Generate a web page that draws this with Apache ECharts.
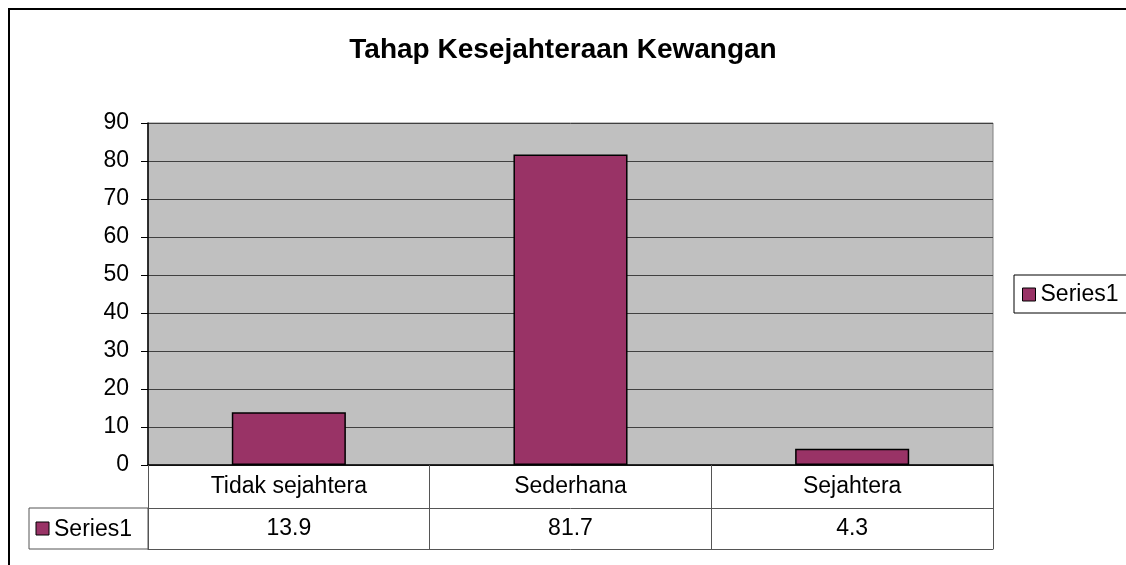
<!DOCTYPE html>
<html>
<head>
<meta charset="utf-8">
<script src="https://cdn.jsdelivr.net/npm/echarts@6/dist/echarts.min.js"></script>
<style>
  html, body { margin: 0; padding: 0; background: #fff; }
  #chart { width: 1126px; height: 565px; }
</style>
</head>
<body>
<div id="chart"></div>
<script>
// data
const titleText = 'Tahap Kesejahteraan Kewangan'
const seriesName = 'Series1'
const categories = ['Tidak sejahtera', 'Sederhana', 'Sejahtera']
const values = [13.9, 81.7, 4.3]
const yTicks = [0, 10, 20, 30, 40, 50, 60, 70, 80, 90]

const font = 'Arial, "Liberation Sans", sans-serif'
const barColor = '#993366'

// plot area (px)
const gLeft = 148, gTop = 123, gRight = 133, gBottom = 100
const rowH1 = 43, rowH2 = 41

let mycharts = echarts.init(document.getElementById('chart'))

const tableTop = 565 - gBottom
mycharts.setOption({
  animation: false,
  title: {
    text: titleText,
    left: 'center',
    top: 36,
    padding: 0,
    textStyle: { fontFamily: font, fontSize: 28, fontWeight: 'bold', color: '#000' },
  },
  legend: {
    left: 1014,
    top: 275,
    padding: [8, 30, 7, 8],
    backgroundColor: '#fff',
    borderColor: '#000',
    borderWidth: 1,
    icon: 'rect',
    itemWidth: 13,
    itemHeight: 13,
    itemStyle: { borderColor: '#000', borderWidth: 1 },
    textStyle: { fontFamily: font, fontSize: 23, color: '#000' },
    data: [seriesName],
  },
  grid: {
    left: gLeft,
    top: gTop,
    right: gRight,
    bottom: gBottom,
    show: true,
    backgroundColor: '#c0c0c0',
    borderColor: '#808080',
    borderWidth: 1,
  },
  xAxis: [
    {
      type: 'category',
      data: categories,
      position: 'bottom',
      axisLine: { show: true, lineStyle: { color: '#000', width: 1.5 } },
      axisTick: { show: true, length: rowH1, lineStyle: { color: '#555' } },
      axisLabel: { margin: 10, fontFamily: font, fontSize: 23, color: '#000' },
      splitLine: { show: false },
    },
    {
      type: 'category',
      data: values.map(String),
      position: 'bottom',
      offset: rowH1,
      axisLine: { show: true, lineStyle: { color: '#555' } },
      axisTick: { show: true, length: rowH2, lineStyle: { color: '#555' } },
      axisLabel: { margin: 9, fontFamily: font, fontSize: 23, color: '#000' },
      splitLine: { show: false },
    },
    {
      type: 'category',
      data: categories,
      position: 'bottom',
      offset: rowH1 + rowH2,
      axisLine: { show: true, lineStyle: { color: '#555' } },
      axisTick: { show: false },
      axisLabel: { show: false },
      splitLine: { show: false },
    },
  ],
  yAxis: {
    type: 'value',
    min: yTicks[0],
    max: yTicks[yTicks.length - 1],
    interval: 10,
    axisLine: { show: true, lineStyle: { color: '#000', width: 1.5 } },
    axisTick: { show: true, length: 7, lineStyle: { color: '#000' } },
    axisLabel: { margin: 19, fontFamily: font, fontSize: 23, color: '#000' },
    splitLine: { show: true, lineStyle: { color: '#404040', width: 1 } },
  },
  graphic: [
    // outer chart border
    {
      type: 'rect',
      shape: { x: 9, y: 9, width: 1200, height: 700 },
      style: { fill: 'none', stroke: '#000', lineWidth: 2 },
      silent: true,
    },
    // left cell of the data table
    {
      type: 'rect',
      shape: { x: 29, y: tableTop + rowH1, width: gLeft - 29, height: rowH2 },
      style: { fill: 'none', stroke: '#555', lineWidth: 1 },
      silent: true,
    },
    {
      type: 'rect',
      shape: { x: 36, y: tableTop + rowH1 + 14, width: 13, height: 13 },
      style: { fill: barColor, stroke: '#000', lineWidth: 1 },
      silent: true,
    },
    {
      type: 'text',
      x: 54,
      y: tableTop + rowH1 + rowH2 / 2 + 1,
      style: {
        text: seriesName,
        font: '23px ' + font,
        fill: '#000',
        verticalAlign: 'middle',
      },
      silent: true,
    },
  ],
  series: [
    {
      name: seriesName,
      type: 'bar',
      data: values,
      xAxisIndex: 0,
      barWidth: '40.5%',
      itemStyle: { color: barColor, borderColor: '#000', borderWidth: 1.5 },
    },
  ],
})
</script>
</body>
</html>
